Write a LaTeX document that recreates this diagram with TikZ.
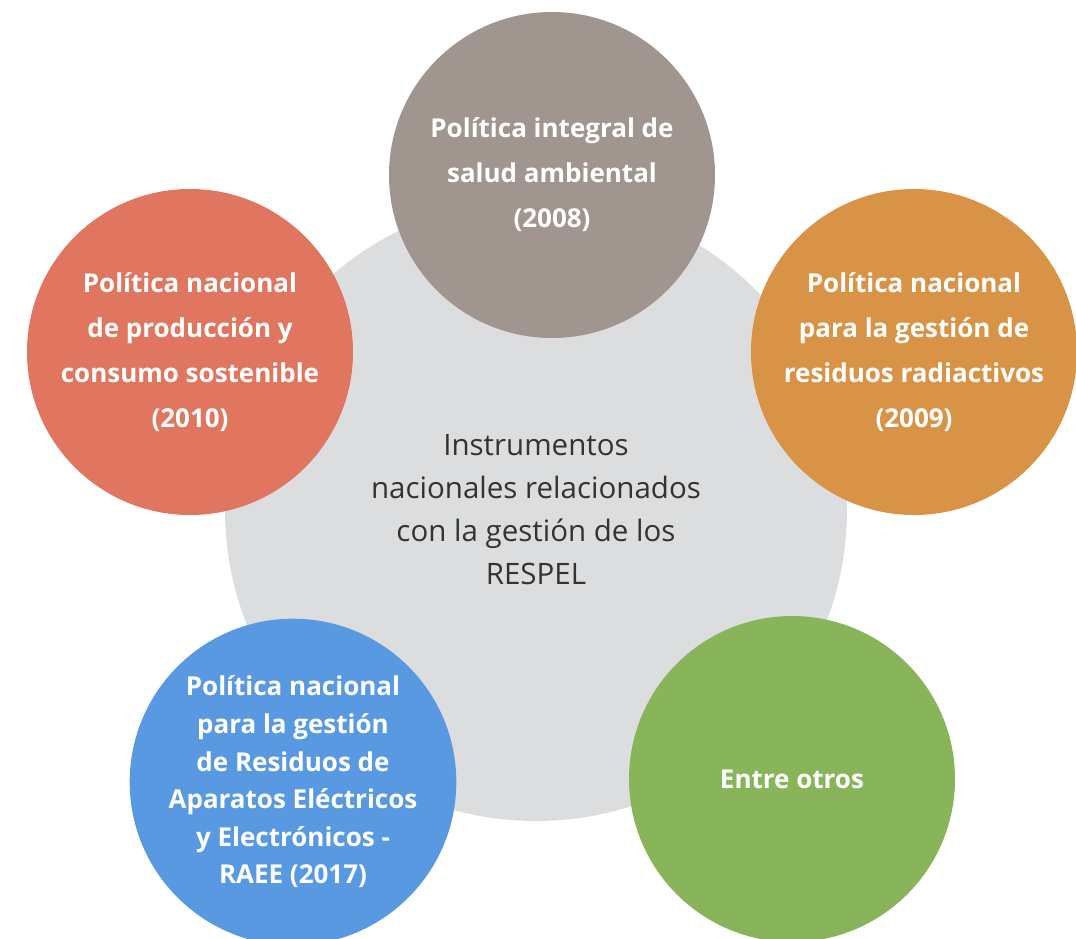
\documentclass[tikz,border=0pt]{standalone}
\usepackage{fontspec}
\setmainfont{Open Sans}
\usetikzlibrary{positioning}
\definecolor{coregray}{HTML}{DCDDDF}
\definecolor{taupe}{HTML}{A0958F}
\definecolor{salmon}{HTML}{E07660}
\definecolor{ochre}{HTML}{D99347}
\definecolor{skyblue}{HTML}{5899E2}
\definecolor{leafgreen}{HTML}{88B45A}
\definecolor{coretext}{HTML}{333333}

\begin{document}
\begin{tikzpicture}[x=1pt,y=-1pt,
  core/.style={circle,fill=coregray,minimum size=622pt,inner sep=0pt,align=center,
    text=coretext,font=\fontsize{29.5}{43}\selectfont},
  bubble/.style={circle,fill=#1,minimum size=326pt,inner sep=0pt,align=center,
    text=white,font=\bfseries\fontsize{26}{45}\selectfont}]
\useasboundingbox (0,0) rectangle (1076,938);
% central disc
\node[core] (core) at (536,510)
  {Instrumentos\\nacionales relacionados\\con la gestión de los\\RESPEL};
% the five policies
\node[bubble=taupe] (salud) at (552,175)
  {Política integral de\\salud ambiental\\(2008)};
\node[bubble=salmon] (consumo) at (190,352)
  {Política nacional\\de producción y\\consumo sostenible\\(2010)};
\node[bubble=ochre] (radiactivos) at (914,352)
  {Política nacional\\para la gestión de\\residuos radiactivos\\(2009)};
\node[bubble=skyblue,font=\bfseries\fontsize{26}{37.6}\selectfont] (raee) at (293,782)
  {Política nacional\\para la gestión\\de Residuos de\\Aparatos Eléctricos\\y Electrónicos -\\RAEE (2017)};
\node[bubble=leafgreen] (otros) at (792,779) {Entre otros};
\end{tikzpicture}
\end{document}
